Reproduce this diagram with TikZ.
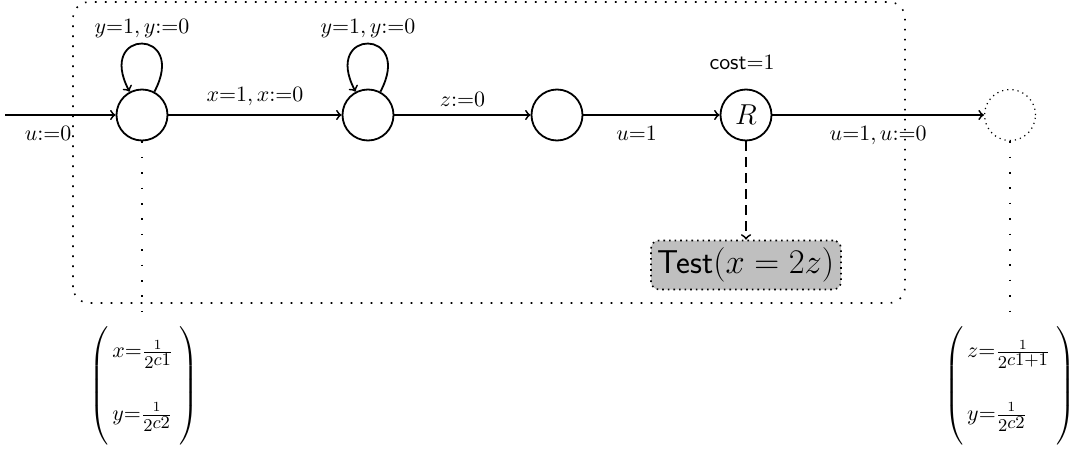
\documentclass[tikz,border=0pt]{standalone}
\usepackage{amsmath}
\usetikzlibrary{arrows.meta}
\newcommand{\pfrac}[1]{\frac{1}{\mbox{\fontsize{9.5}{10}\selectfont$2\raisebox{1.8pt}{$#1$}$}}}
\newcommand{\valvec}[2]{\left(\vrule height 30pt depth 27pt width 0pt\begin{array}{@{\,}l@{\;}}#1\\[19pt] #2\end{array}\right)}
\begin{document}
\begin{tikzpicture}[x=0.5pt,y=0.5pt,>=to,
  st/.style={circle,draw,line width=0.9pt,minimum size=25.5pt,inner sep=0pt},
  ghost/.style={circle,draw,dotted,line width=0.6pt,minimum size=25.5pt,inner sep=0pt},
  edge/.style={->,line width=0.9pt},
  lbl/.style={inner sep=1pt,font=\fontsize{11}{13}\selectfont},
  bigbox/.style={line width=0.8pt,dash pattern=on 0.8pt off 4.2pt,rounded corners=8pt},
  vdot/.style={line width=0.8pt,dash pattern=on 0.8pt off 6.9pt},
  dasharrow/.style={->,line width=0.9pt,dash pattern=on 5pt off 3pt},
  testbox/.style={draw,fill=gray!50,rounded corners=4pt,line width=0.8pt,dotted,
    minimum width=95pt,minimum height=24.5pt,inner sep=2pt,font=\fontsize{16.5}{20}\selectfont},
  valbox/.style={inner sep=1pt,font=\fontsize{10.5}{12}\selectfont},
]
\useasboundingbox (0,0) rectangle (1079,451);
\draw[bigbox] (73,148) rectangle (905,449);
\coordinate (in) at (5,336);
\node[st] (q1) at (142,336) {};
\node[st] (q2) at (368,336) {};
\node[st] (q3) at (557,336) {};
\node[st,font=\Large] (r) at (746,336) {$R$};
\node[ghost] (q5) at (1010,336) {};
\node[lbl] (cost) at (742,389) {$\mathsf{cost}{=}1$};
\node[testbox] (test) at (746,186) {\textsf{Test}$(x=2z)$};
\node[valbox] (v1) at (144,65) {$\valvec{x{=}\pfrac{c1}}{y{=}\pfrac{c2}}$};
\node[valbox] (v2) at (1010,65) {$\valvec{z{=}\pfrac{c1{+}1}}{y{=}\pfrac{c2}}$};
\draw[edge] (in) -- node[lbl,pos=0.39,below=4pt] {$u{:=}0$} (q1);
\draw[edge] (q1) to[out=62,in=118,looseness=7.5] node[lbl,above=1.5pt] {$y{=}1,y{:=}0$} (q1);
\draw[edge] (q1) -- node[lbl,above=3pt] {$x{=}1,x{:=}0$} (q2);
\draw[edge] (q2) to[out=62,in=118,looseness=7.5] node[lbl,above=1.5pt] {$y{=}1,y{:=}0$} (q2);
\draw[edge] (q2) -- node[lbl,above=3pt] {$z{:=}0$} (q3);
\draw[edge] (q3) -- node[lbl,pos=0.39,below=4pt] {$u{=}1$} (r);
\draw[edge] (r) -- node[lbl,below=4pt] {$u{=}1,u{:=}0$} (q5);
\draw[dasharrow] (r) -- (test);
\draw[vdot] (q1.south) -- (q1.south |- v1.north);
\draw[vdot] (q5.south) -- (q5.south |- v2.north);
\end{tikzpicture}
\end{document}
